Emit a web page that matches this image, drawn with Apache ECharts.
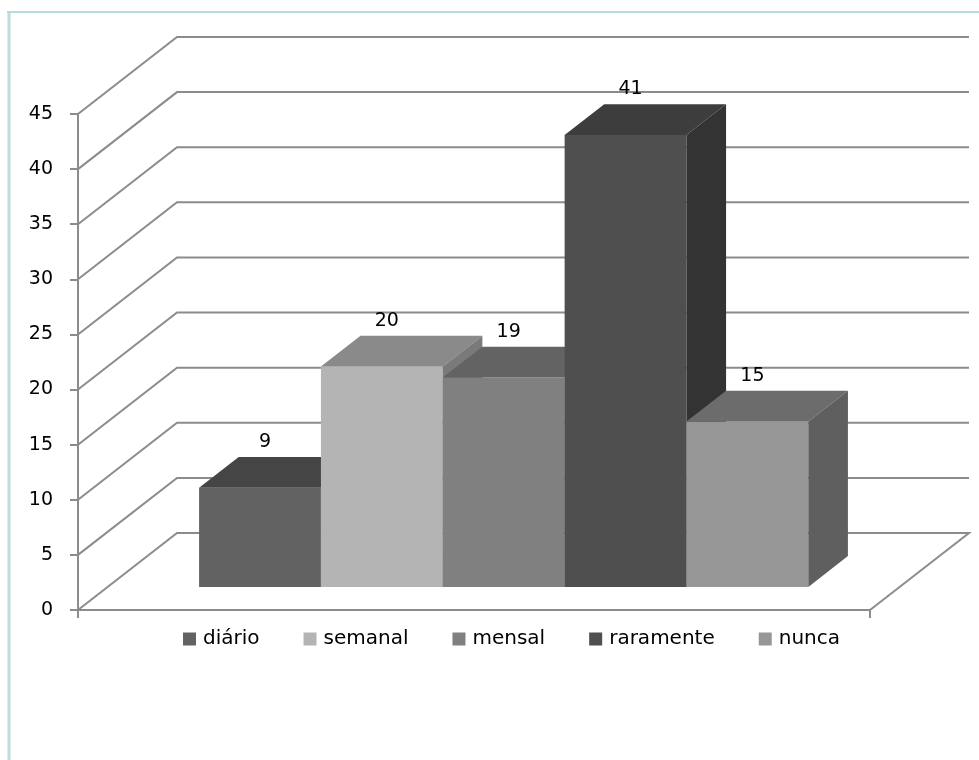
<!DOCTYPE html>
<html>
<head>
<meta charset="utf-8">
<script src="https://cdn.jsdelivr.net/npm/echarts@6/dist/echarts.min.js"></script>
<style>
  html, body { margin: 0; padding: 0; background: #fff; }
  #chart { width: 979px; height: 760px; }
</style>
</head>
<body>
<div id="chart"></div>
<script>
// dados
var categories = ['diário', 'semanal', 'mensal', 'raramente', 'nunca']
var values = [9, 20, 19, 41, 15]
var yTicks = [0, 5, 10, 15, 20, 25, 30, 35, 40, 45]

// cores (frente / topo / lateral)
var frontColors = ['#626262', '#b4b4b4', '#808080', '#4f4f4f', '#979797']
var topColors = ['#454545', '#8a8a8a', '#636363', '#3d3d3d', '#6c6c6c']
var sideColors = ['#4a4a4a', '#7a7a7a', '#6a6a6a', '#333333', '#5f5f5f']
var lineColor = '#8c8c8c'
var fontName = 'DejaVu Sans'

// profundidade do 3D (deslocamento da parede do fundo)
var DX = 99
var DY = -77
var D0 = 0.3, D1 = 0.7

var myChart = echarts.init(document.getElementById('chart'))

function wallItem(params, api) {
  var v = api.value(0)
  var p0 = api.coord([0, v])
  var p1 = api.coord([1, v])
  var pts = [[p0[0], p0[1]], [p0[0] + DX, p0[1] + DY], [p1[0] + DX, p1[1] + DY]]
  if (v === 0) pts.push([p1[0], p1[1]])
  return {
    type: 'polyline',
    shape: { points: pts },
    style: { stroke: lineColor, lineWidth: 2, fill: null }
  }
}

function barItem(i) {
  return function (params, api) {
    var v = api.value(1)
    var a = api.coord([0, 0])
    var b = api.coord([1, 0])
    var t = api.coord([0, v])
    var w = (b[0] - a[0]) / 6.5
    var l = a[0] + D0 * DX + 0.75 * w + i * w
    var bottom = a[1] + D0 * DY
    var top = t[1] + D0 * DY
    var ddx = (D1 - D0) * DX, ddy = (D1 - D0) * DY
    return {
      type: 'group',
      children: [
        {
          type: 'polygon',
          shape: { points: [[l, bottom], [l + w, bottom], [l + w, top], [l, top]] },
          style: { fill: frontColors[i] }
        },
        {
          type: 'polygon',
          shape: { points: [[l, top], [l + w, top], [l + w + ddx, top + ddy], [l + ddx, top + ddy]] },
          style: { fill: topColors[i] }
        },
        {
          type: 'polygon',
          shape: { points: [[l + w, top], [l + w, bottom], [l + w + ddx, bottom + ddy], [l + w + ddx, top + ddy]] },
          style: { fill: sideColors[i] }
        },
        {
          type: 'text',
          z2: 10,
          style: {
            x: l + w / 2 + 5,
            y: top + ddy - 15,
            text: String(v),
            fill: '#000',
            font: '19px "' + fontName + '"',
            textAlign: 'center',
            textVerticalAlign: 'middle'
          }
        }
      ]
    }
  }
}

var series = [{
  type: 'custom',
  name: 'paredes',
  silent: true,
  renderItem: wallItem,
  data: yTicks.map(function (v) { return [v] }),
  encode: { y: 0 }
}]
categories.forEach(function (name, i) {
  series.push({
    type: 'custom',
    name: name,
    renderItem: barItem(i),
    itemStyle: { color: frontColors[i] },
    data: [[0, values[i]]],
    encode: { x: 0, y: 1 }
  })
})

var option = {
  animation: false,
  backgroundColor: '#fff',
  textStyle: { fontFamily: fontName },
  graphic: [
    { type: 'line', shape: { x1: 7, y1: 12, x2: 979, y2: 12 }, style: { stroke: '#b3dcdd', lineWidth: 2 } },
    { type: 'line', shape: { x1: 9, y1: 12, x2: 9, y2: 760 }, style: { stroke: '#bcdcdd', lineWidth: 3 } }
  ],
  legend: {
    data: categories,
    left: 178,
    top: 624,
    icon: 'rect',
    itemWidth: 13,
    itemHeight: 13,
    itemGap: 44,
    textStyle: { fontSize: 20, color: '#000', fontFamily: fontName, padding: [0, 0, 0, 2] }
  },
  grid: { left: 78, right: 109, top: 114, bottom: 150 },
  xAxis: {
    type: 'value',
    min: 0,
    max: 1,
    interval: 1,
    axisLine: { show: true, lineStyle: { color: lineColor, width: 2 } },
    axisTick: { show: true, length: 8, lineStyle: { color: lineColor, width: 2 } },
    axisLabel: { show: false },
    splitLine: { show: false }
  },
  yAxis: {
    type: 'value',
    min: 0,
    max: 45,
    interval: 5,
    axisLine: { show: true, lineStyle: { color: lineColor, width: 2 } },
    axisTick: { show: true, length: 8, lineStyle: { color: lineColor, width: 2 } },
    axisLabel: { margin: 25, fontSize: 19, color: '#000', fontFamily: fontName },
    splitLine: { show: false }
  },
  series: series
}

myChart.setOption(option, true)
</script>
</body>
</html>
